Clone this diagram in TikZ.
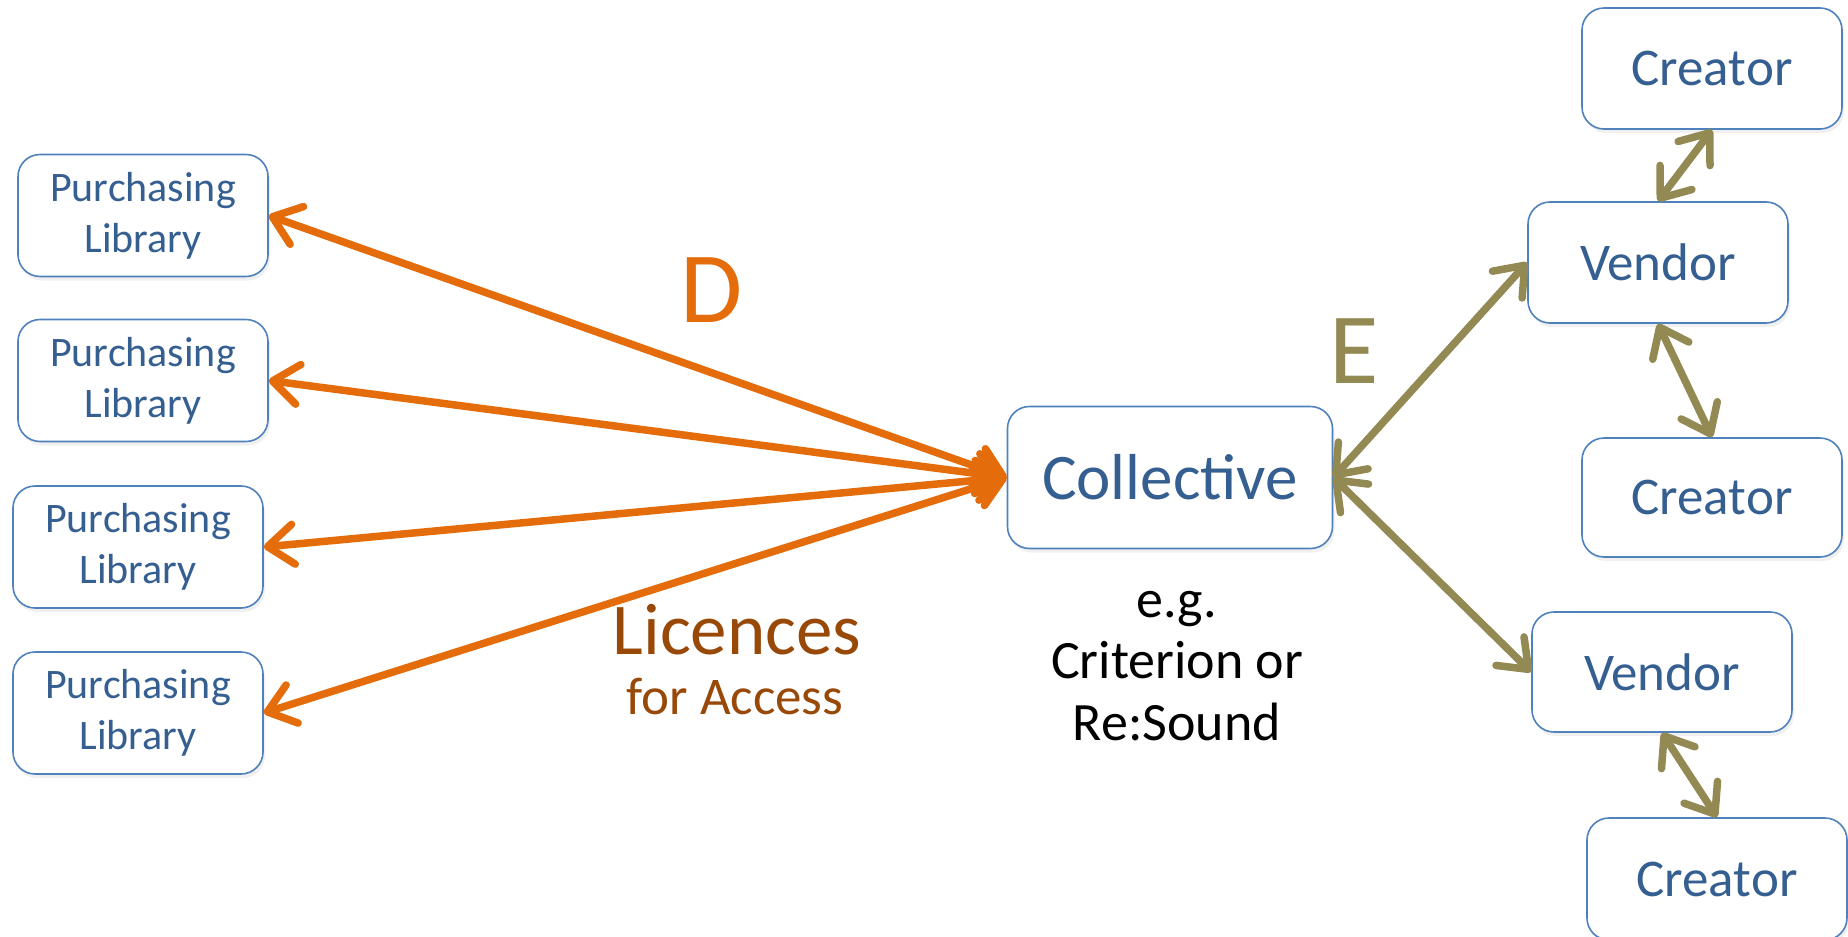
\documentclass[tikz,border=0pt]{standalone}
\usepackage{fontspec}
\setmainfont{Carlito}
\usetikzlibrary{arrows.meta,shadows}
\definecolor{boxline}{HTML}{4F81BD}
\definecolor{boxtext}{HTML}{365F91}
\definecolor{licorange}{HTML}{E46C0A}
\definecolor{olivearrow}{HTML}{938953}
\definecolor{licbrown}{HTML}{984807}
\begin{document}
\begin{tikzpicture}[x=1pt,y=-1pt,
  >={Straight Barb[length=26pt, width=40pt, line cap=round, line join=round]},
  box/.style={draw=boxline, line width=1.6pt, rounded corners=22pt, fill=white,
    text=boxtext, align=center, inner sep=0pt,
    drop shadow={opacity=0.12, shadow xshift=2pt, shadow yshift=-4pt}},
  libbox/.style={box, minimum width=250pt, minimum height=122pt,
    font=\fontsize{42}{51}\selectfont},
  smallbox/.style={box, minimum width=260pt, minimum height=121pt,
    font=\fontsize{53}{64}\selectfont},
  licarrow/.style={draw=licorange, line width=7.5pt, line cap=round, <->},
  olivelink/.style={draw=olivearrow, line width=7.5pt, line cap=round, <->}]
\useasboundingbox (0,0) rectangle (1848,937);

% purchasing libraries
\node[libbox] (pl1) at (143,215.5) {Purchasing\\Library};
\node[libbox] (pl2) at (143,380.5) {Purchasing\\Library};
\node[libbox] (pl3) at (138,547) {Purchasing\\Library};
\node[libbox] (pl4) at (138,713) {Purchasing\\Library};

% collective
\node[box, minimum width=325pt, minimum height=142pt,
  font=\fontsize{65}{78}\selectfont] (coll) at (1170,477.5) {Collective};

% vendors and creators
\node[smallbox] (cr1) at (1712,68.5) {Creator};
\node[smallbox] (v1) at (1658,262.5) {Vendor};
\node[smallbox, minimum height=119pt] (cr2) at (1712,497.5) {Creator};
\node[smallbox, minimum height=120pt] (v2) at (1662,672) {Vendor};
\node[smallbox, minimum height=122pt] (cr3) at (1717,879) {Creator};

% licence links
\draw[licarrow] (coll.west) -- (pl1.east);
\draw[licarrow] (coll.west) -- (pl2.east);
\draw[licarrow] (coll.west) -- (pl3.east);
\draw[licarrow] (coll.west) -- (pl4.east);

% collective to vendors, vendors to creators
\draw[olivelink] (coll.east) -- (v1.west);
\draw[olivelink] (coll.east) -- (v2.west);
\draw[olivelink] (cr1.south) -- (v1.north);
\draw[olivelink] (v1.south) -- (cr2.north);
\draw[olivelink] (v2.south) -- (cr3.north);

% labels
\node[text=licorange, inner sep=0pt, font=\fontsize{101}{110}\selectfont] (lblD) at (712,290) {D};
\node[text=olivearrow, inner sep=0pt, font=\fontsize{101}{110}\selectfont] (lblE) at (1354,351) {E};
\node[text=licbrown, inner sep=0pt, anchor=base, font=\fontsize{73}{80}\selectfont] (lic) at (737,654) {Licences};
\node[text=licbrown, inner sep=0pt, anchor=base, font=\fontsize{53}{60}\selectfont] (acc) at (735,714) {for Access};
% the base of a multi-line node is the baseline of its last line
\node[text=black, inner sep=0pt, anchor=base, align=center,
  font=\fontsize{54}{61.5}\selectfont] (eg) at (1177,740) {e.g.\\Criterion or\\Re:Sound};
\end{tikzpicture}
\end{document}
